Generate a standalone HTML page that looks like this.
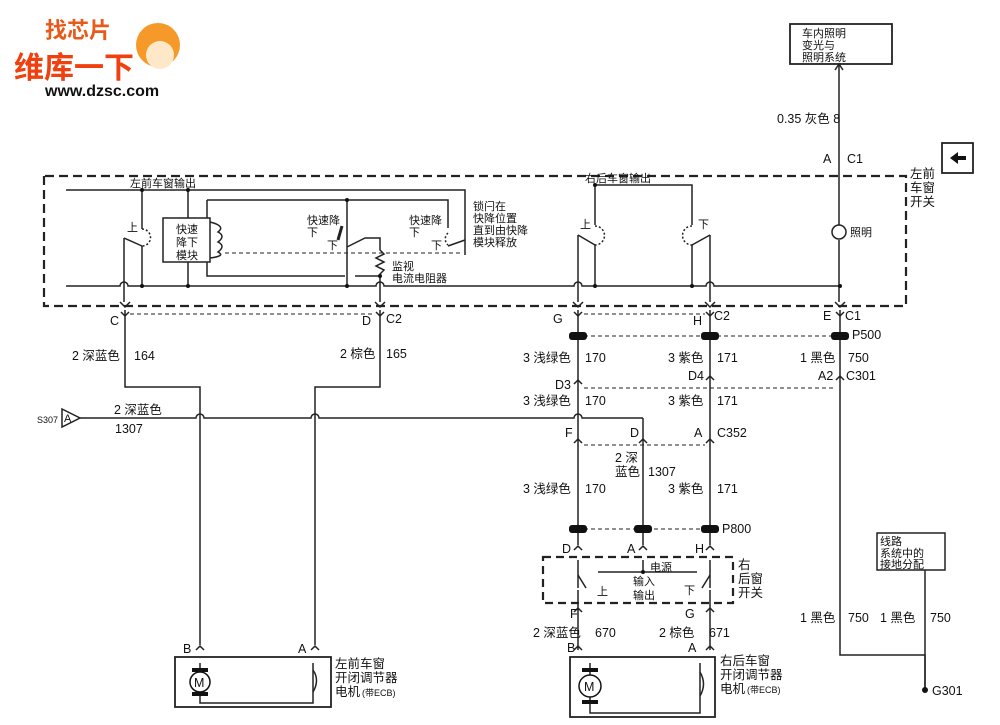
<!DOCTYPE html>
<html><head><meta charset="utf-8"><style>
html,body{margin:0;padding:0;background:#fff}
svg{display:block}
text{font-family:"Liberation Sans","Noto Sans CJK SC",sans-serif;fill:#111}
.t{font-size:12.5px}
.s{font-size:11px}
</style></head><body>
<svg width="1000" height="725" viewBox="0 0 1000 725" xmlns="http://www.w3.org/2000/svg">
<g stroke="#222" stroke-width="1.5" fill="none">
<path d="M44 176 V306 H906 V176 H44" stroke-dasharray="9,5" stroke-width="2.2"/>
<path d="M66 190 H465 V255"/>
<path d="M595 185 H692 V225"/>
<path d="M595 185 V225"/>
<path d="M142 190 V229"/><path d="M188 190 V218"/>
<path d="M142 246 V286"/><path d="M124 238 L142 246"/><path d="M124 238 V302"/>
<path d="M142 229 A8 8 0 0 1 142 246" stroke-dasharray="2,2"/>
<rect x="163" y="218" width="47" height="44"/>
<path d="M210 222 Q226 226 218 232 Q226 236 218 242 Q226 246 218 252 Q226 256 210 258"/>
<path d="M188 262 V286"/>
<path d="M207 200 H448 V228"/><path d="M207 200 V218"/>
<path d="M207 262 V276 H345 M355 276 H380"/>
<path d="M347 200 V286"/><path d="M347 247 L365 238 H380 V250 l4 4 -8 4 8 4 -8 4 8 4 -4 4 V302"/>
<path d="M225 253 H460" stroke-dasharray="4,3" stroke-width="1"/>
<path d="M342 226 L338 240" stroke-width="3"/>
<path d="M448 233 A8 8 0 0 0 448 245" stroke-dasharray="2,2"/>
<path d="M448 246 L465 240"/>
<path d="M66 286 H120 a4 4 0 0 1 8 0 H376 a4 4 0 0 1 8 0 H574 a4 4 0 0 1 8 0 H706 a4 4 0 0 1 8 0 H840"/>
<path d="M595 245 V286"/><path d="M578 235 L595 245"/><path d="M578 235 V302"/>
<path d="M595 226 A9 9 0 0 1 595 245" stroke-dasharray="2,2"/>
<path d="M692 245 V286"/><path d="M710 235 L692 245"/><path d="M710 235 V302"/>
<path d="M692 226 A9 9 0 0 0 692 245" stroke-dasharray="2,2"/>
<path d="M839 64 V225"/><path d="M839 240 V302"/>
<circle cx="839" cy="232" r="7"/>
<rect x="790" y="24" width="102" height="40" stroke-width="1.8"/>
<rect x="942" y="143" width="31" height="30" stroke-width="1.8"/>
<!-- Y connector marks -->
<path d="M120 302 l5 5 5 -5 M375 302 l5 5 5 -5 M573 302 l5 5 5 -5 M705 302 l5 5 5 -5 M835 302 l5 5 5 -5"/>
<path d="M121 312 l4 4 4 -4 M376 312 l4 4 4 -4 M574 312 l4 4 4 -4 M706 312 l4 4 4 -4 M836 312 l4 4 4 -4"/>
<path d="M574 384 l4 -4 4 4 M706 380 l4 -4 4 4 M836 380 l4 -4 4 4"/>
<path d="M574 443 l4 -4 4 4 M639 443 l4 -4 4 4 M706 443 l4 -4 4 4"/>
<path d="M574 550 l4 -4 4 4 M639 550 l4 -4 4 4 M706 550 l4 -4 4 4"/>
<path d="M574 612 l4 -4 4 4 M706 612 l4 -4 4 4"/>
<path d="M196 650 l4 -4 4 4 M311 650 l4 -4 4 4 M574 650 l4 -4 4 4 M706 650 l4 -4 4 4"/>
<path d="M835 70 l4 -6 4 6"/>
<path d="M125 310 V387 H200 V645"/>
<path d="M380 310 V387 H315 V645"/>
<path d="M578 310 V545"/><path d="M710 310 V545"/><path d="M840 310 V655 H925 V690"/>
<path d="M643 418 V545"/>
<path d="M80 418 H196 a4 4 0 0 1 8 0 H311 a4 4 0 0 1 8 0 H574 a4 4 0 0 1 8 0 H643"/>
<path d="M62 409 L80 418 L62 427 Z"/>
<path d="M130 314 H375 M584 314 H705" stroke-dasharray="4,3" stroke-width="1"/>
<path d="M584 336 H835 M584 388 H835 M584 445 H705 M584 529 H705" stroke-dasharray="4,3" stroke-width="1"/>
<path d="M543 557 H733 V603 H543 Z" stroke-dasharray="8,5" stroke-width="2.2"/>
<path d="M578 560 V588 M598 572 H697 M643 572 V560 M710 560 V588"/>
<path d="M578 590 V612 M710 590 V612"/>
<path d="M578 575 L586 588 M710 575 L702 588"/>
<path d="M578 612 V650 M710 612 V650"/>
<rect x="175" y="657" width="156" height="50" stroke-width="1.8"/>
<rect x="570" y="657" width="145" height="60" stroke-width="1.8"/>
<path d="M200 663 V703 H313 V663 M590 663 V713 H700 V663"/>
<path d="M313 670 Q320 680 313 692 M700 672 Q707 684 700 696"/>
<path d="M925 570 V690"/>
</g>
<g fill="#111">
<rect x="192" y="668" width="16" height="4"/><rect x="192" y="692" width="16" height="4"/>
<circle cx="200" cy="682" r="10" fill="#fff" stroke="#111" stroke-width="1.5"/>
<rect x="582" y="668" width="16" height="4"/><rect x="582" y="700" width="16" height="4"/>
<circle cx="590" cy="686" r="11" fill="#fff" stroke="#111" stroke-width="1.5"/>
<circle cx="925" cy="690" r="3"/>
<path d="M950 158 l8 -6 v4 h8 v4 h-8 v4 z"/>
<rect x="569" y="332" width="18" height="8" rx="3"/><rect x="701" y="332" width="18" height="8" rx="3"/><rect x="831" y="332" width="18" height="8" rx="3"/>
<rect x="569" y="525" width="18" height="8" rx="3"/><rect x="634" y="525" width="18" height="8" rx="3"/><rect x="701" y="525" width="18" height="8" rx="3"/>
<circle cx="142" cy="190" r="2"/><circle cx="188" cy="190" r="2"/><circle cx="142" cy="286" r="2"/><circle cx="188" cy="286" r="2"/>
<circle cx="347" cy="200" r="2"/><circle cx="347" cy="286" r="2"/><circle cx="380" cy="276" r="2"/>
<circle cx="595" cy="185" r="2"/><circle cx="595" cy="286" r="2"/><circle cx="692" cy="286" r="2"/><circle cx="840" cy="286" r="2"/>
<circle cx="643" cy="572" r="2"/>
</g>
<text x="45" y="38" style="font-size:22px;font-weight:bold;fill:#e85a1a">找芯片</text>
<text x="14" y="78" style="font-size:30px;font-weight:bold;fill:#f04010">维库一下</text>
<text x="45" y="96" style="font-size:16px;font-weight:bold">www.dzsc.com</text>
<circle cx="158" cy="45" r="22" fill="#f59a2a"/>
<circle cx="160" cy="55" r="14" fill="#ffe8c8"/>
<text class="s" x="802" y="37">车内照明</text><text class="s" x="802" y="49">变光与</text><text class="s" x="802" y="61">照明系统</text>
<text class="t" x="777" y="123">0.35 灰色 8</text>
<text class="t" x="823" y="163">A</text><text class="t" x="847" y="163">C1</text>
<text class="t" x="910" y="178">左前</text><text class="t" x="910" y="192">车窗</text><text class="t" x="910" y="206">开关</text>
<text class="s" x="130" y="187">左前车窗输出</text>
<text class="s" x="585" y="182">右后车窗输出</text>
<text class="s" x="127" y="231">上</text>
<text class="s" x="176" y="233">快速</text><text class="s" x="176" y="246">降下</text><text class="s" x="176" y="259">模块</text>
<text class="s" x="307" y="224">快速降</text><text class="s" x="307" y="236">下</text><text class="s" x="327" y="249">下</text>
<text class="s" x="409" y="224">快速降</text><text class="s" x="409" y="236">下</text><text class="s" x="431" y="249">下</text>
<text class="s" x="473" y="210">锁闩在</text><text class="s" x="473" y="222">快降位置</text><text class="s" x="473" y="234">直到由快降</text><text class="s" x="473" y="246">模块释放</text>
<text class="s" x="392" y="270">监视</text><text class="s" x="392" y="282">电流电阻器</text>
<text class="s" x="580" y="228">上</text><text class="s" x="698" y="228">下</text>
<text class="s" x="850" y="236">照明</text>
<text class="t" x="110" y="325">C</text><text class="t" x="362" y="325">D</text><text class="t" x="386" y="323">C2</text>
<text class="t" x="553" y="323">G</text><text class="t" x="693" y="325">H</text><text class="t" x="714" y="320">C2</text>
<text class="t" x="823" y="320">E</text><text class="t" x="845" y="320">C1</text><text class="t" x="852" y="339">P500</text>
<text class="t" x="72" y="360">2 深蓝色</text><text class="t" x="134" y="360">164</text>
<text class="t" x="340" y="358">2 棕色</text><text class="t" x="386" y="358">165</text>
<text class="t" x="523" y="362">3 浅绿色</text><text class="t" x="585" y="362">170</text>
<text class="t" x="668" y="362">3 紫色</text><text class="t" x="717" y="362">171</text>
<text class="t" x="800" y="362">1 黑色</text><text class="t" x="848" y="362">750</text>
<text class="t" x="555" y="389">D3</text><text class="t" x="688" y="380">D4</text>
<text class="t" x="818" y="380">A2</text><text class="t" x="846" y="380">C301</text>
<text class="t" x="523" y="405">3 浅绿色</text><text class="t" x="585" y="405">170</text>
<text class="t" x="668" y="405">3 紫色</text><text class="t" x="717" y="405">171</text>
<text class="s" x="37" y="423" style="font-size:9px">S307</text><text class="s" x="64" y="422">A</text>
<text class="t" x="114" y="414">2 深蓝色</text><text class="t" x="115" y="433">1307</text>
<text class="t" x="565" y="437">F</text><text class="t" x="630" y="437">D</text><text class="t" x="694" y="437">A</text><text class="t" x="717" y="437">C352</text>
<text class="t" x="615" y="462">2 深</text><text class="t" x="615" y="476">蓝色</text><text class="t" x="648" y="476">1307</text>
<text class="t" x="523" y="493">3 浅绿色</text><text class="t" x="585" y="493">170</text>
<text class="t" x="668" y="493">3 紫色</text><text class="t" x="717" y="493">171</text>
<text class="t" x="722" y="533">P800</text>
<text class="t" x="562" y="553">D</text><text class="t" x="627" y="553">A</text><text class="t" x="695" y="553">H</text>
<text class="s" x="650" y="571">电源</text><text class="s" x="633" y="585">输入</text><text class="s" x="633" y="599">输出</text>
<text class="s" x="597" y="595">上</text><text class="s" x="684" y="594">下</text>
<text class="t" x="738" y="569">右</text><text class="t" x="738" y="583">后窗</text><text class="t" x="738" y="597">开关</text>
<text class="t" x="570" y="618">F</text><text class="t" x="685" y="618">G</text>
<text class="t" x="533" y="637">2 深蓝色</text><text class="t" x="595" y="637">670</text>
<text class="t" x="659" y="637">2 棕色</text><text class="t" x="709" y="637">671</text>
<text class="t" x="567" y="652">B</text><text class="t" x="688" y="652">A</text>
<text class="t" x="183" y="653">B</text><text class="t" x="298" y="653">A</text>
<text class="t" x="194" y="687">M</text><text class="t" x="584" y="691">M</text>
<text class="t" x="335" y="668">左前车窗</text><text class="t" x="335" y="682">开闭调节器</text><text class="t" x="335" y="696">电机</text><text class="s" x="362" y="696" style="font-size:9px">(带ECB)</text>
<text class="t" x="720" y="665">右后车窗</text><text class="t" x="720" y="679">开闭调节器</text><text class="t" x="720" y="693">电机</text><text class="s" x="747" y="693" style="font-size:9px">(带ECB)</text>
<rect x="877" y="533" width="68" height="37" fill="none" stroke="#222" stroke-width="1.5"/>
<text class="s" x="880" y="545">线路</text><text class="s" x="880" y="557">系统中的</text><text class="s" x="880" y="568">接地分配</text>
<text class="t" x="800" y="622">1 黑色</text><text class="t" x="848" y="622">750</text>
<text class="t" x="880" y="622">1 黑色</text><text class="t" x="930" y="622">750</text>
<text class="t" x="932" y="695">G301</text>
</svg>
</body></html>
